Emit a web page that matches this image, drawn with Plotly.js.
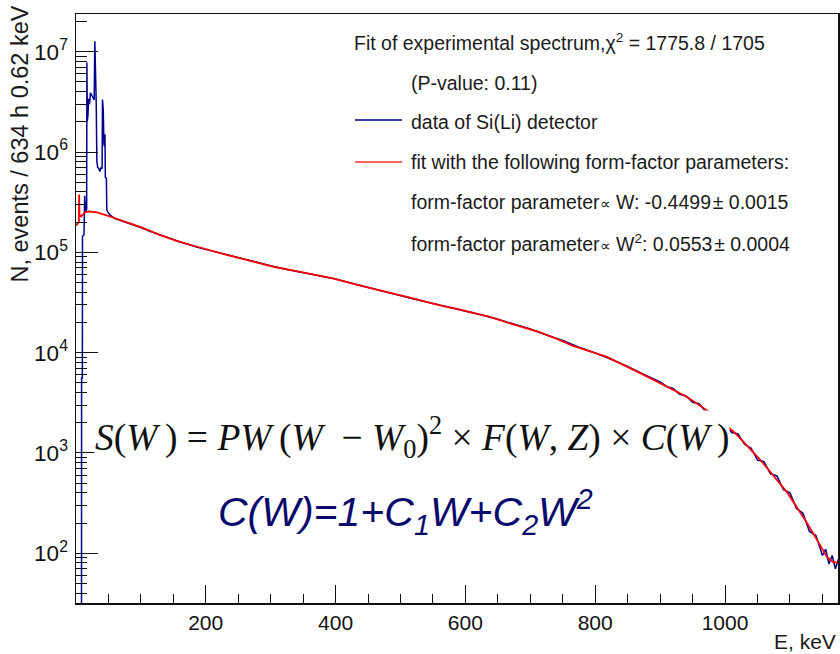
<!DOCTYPE html>
<html>
<head>
<meta charset="utf-8">
<script src="https://cdn.plot.ly/plotly-3.0.1.min.js"></script>
<style>html,body{margin:0;padding:0;background:#fff;}#chart{width:840px;height:654px;}</style>
</head>
<body>
<div id="chart"></div>
<script>
// ---- data ----
// fit curve (energy in keV, events per bin)
const fitE = [0.5, 3.5, 4.6, 5.0, 5.6, 8, 14, 20, 31, 51, 77, 103, 128, 154, 180, 205, 231, 257, 282, 308, 334, 359, 396, 432, 458, 484, 510, 535, 561, 587, 612, 638, 664, 689, 715, 741, 766, 792, 818, 874, 941, 982, 1015, 1054, 1096, 1126, 1157, 1166, 1176];
const fitN = [1.85e5, 2.0e5, 2.0e5, 3.76e5, 2.38e5, 2.27e5, 2.5e5, 2.56e5, 2.51e5, 2.29e5, 1.99e5, 1.75e5, 1.50e5, 1.31e5, 1.17e5, 1.05e5, 9.5e4, 8.6e4, 7.8e4, 7.1e4, 6.6e4, 6.1e4, 5.5e4, 4.76e4, 4.3e4, 3.94e4, 3.59e4, 3.24e4, 2.96e4, 2.73e4, 2.49e4, 2.27e4, 2.0e4, 1.8e4, 1.59e4, 1.37e4, 1.17e4, 1.03e4, 9.06e3, 6.04e3, 3.64e3, 2.41e3, 1.59e3, 857, 402, 202, 92, 82, 80];

// Si(Li) detector spectrum (energy in keV, events per bin)
const dataE = [8.6, 8.8, 10.0, 10.2, 12.5, 13.6, 14.8, 16.6, 17.0, 17.6, 18.6, 19.6, 21.0, 22.5, 24.0, 26.0, 28.2, 29.2, 30.3, 31.4, 32.3, 33.6, 35.2, 36.8, 38.6, 40.4, 41.0, 42.2, 43.2, 44.0, 44.8, 45.4, 47.0, 47.6, 50,
  53, 60, 70, 80, 90, 100, 112, 125, 137, 150, 162, 175, 187, 200, 225, 250, 275, 300, 325, 350, 375, 400, 425, 450, 475, 500, 525, 550, 575, 600, 625, 650, 675, 700, 725, 750, 775, 800, 825, 850, 875, 900,
  910, 920, 930, 940, 950, 960, 970, 980, 990, 1000, 1010, 1020, 1030, 1040, 1050, 1060, 1070, 1080, 1090, 1100, 1110, 1120, 1130, 1140, 1150, 1155, 1160, 1165, 1170, 1175];
const dataN = [1, 5600, 5600, 1.44e5, 1.5e5, 3.67e5, 2.5e5, 2.7e5, 7.8e6, 2.02e6, 2.3e6, 3.4e6, 3.0e6, 3.9e6, 3.7e6, 3.5e6, 3.3e6, 1.27e7, 6.4e6, 3.0e6, 8.1e5, 7.0e5, 6.9e5, 6.4e5, 7.0e5, 6.8e5, 3.33e6, 2.6e6, 1.2e6, 1.14e6, 1.5e6, 5.6e5, 5.5e5, 2.65e5, 2.48e5,
  2.35e5, 2.17e5, 2.07e5, 1.96e5, 1.86e5, 1.77e5, 1.64e5, 1.53e5, 1.42e5, 1.34e5, 1.26e5, 1.19e5, 1.12e5, 1.07e5, 9.7e4, 8.8e4, 8.0e4, 7.35e4, 6.75e4, 6.3e4, 5.85e4, 5.42e4, 4.92e4, 4.46e4, 4.08e4, 3.73e4, 3.36e4, 3.09e4, 2.84e4, 2.62e4, 2.37e4, 2.15e4, 1.91e4, 1.72e4, 1.50e4, 1.32e4, 1.13e4, 9.95e3, 8.55e3, 7.3e3, 6.05e3, 5.1e3,
  4.6e3, 4.4e3, 3.85e3, 3.7e3, 3.2e3, 3.1e3, 2.6e3, 2.55e3, 2.1e3, 2.0e3, 1.6e3, 1.55e3, 1.22e3, 1.12e3, 850, 820, 620, 590, 430, 400, 280, 250, 165, 150, 95, 110, 78, 95, 70, 88];

const xTickVals = [200, 400, 600, 800, 1000];
const xTickText = ['200', '400', '600', '800', '1000'];

const legendLines = [
  'Fit of experimental spectrum,χ<sup>2</sup> = 1775.8 / 1705',
  '(P-value: 0.11)',
  'data of Si(Li) detector',
  'fit with the following form-factor parameters:',
  'form-factor parameter<span style="font-size:15px">∝</span> W: -0.4499<span style="font-size:6px"> </span>± 0.0015',
  'form-factor parameter<span style="font-size:15px">∝</span> W<sup>2</sup>: 0.0553<span style="font-size:6px"> </span>± 0.0004'
];
const formula1 = '<i>S</i>(<i>W</i>\u2009) = <i>PW</i>\u2009(<i>W</i>  − <i>W</i><sub>0</sub>)<sup>2</sup> × <i>F</i>(<i>W</i>, <i>Z</i>) × <i>C</i>(<i>W</i>\u2009)';
const formula2 = '<i>C(W)=1+C<sub>1</sub>W+C<sub>2</sub>W<sup>2</sup></i>';

// ---- layout helpers (pixel -> paper) ----
const L = 76, R = 2, T = 14, B = 51, W = 840, H = 654;
const PW = W - L - R, PH = H - T - B;
const px = x => (x - L) / PW;
const py = y => (H - B - y) / PH;

const sans = 'Liberation Sans, Arial, Helvetica, sans-serif';
const serif = 'Liberation Serif, Times New Roman, serif';

const traces = [
  {x: dataE, y: dataN, type: 'scatter', mode: 'lines', line: {color: '#00008f', width: 1.5}, name: 'data of Si(Li) detector'},
  {x: fitE, y: fitN, type: 'scatter', mode: 'lines', line: {color: '#ff0000', width: 1.8}, name: 'fit'}
];

const annotations = [];
const legendY = [42, 83, 122, 162, 202, 243];
legendLines.forEach((t, i) => {
  annotations.push({xref: 'paper', yref: 'paper', x: px(i === 0 ? 352 : 409), y: py(legendY[i]),
    xanchor: 'left', yanchor: 'middle', showarrow: false, text: t,
    font: {family: sans, size: 19.5, color: '#1a1a1a'}});
});
annotations.push({xref: 'paper', yref: 'paper', x: px(19), y: py(4), xanchor: 'center', yanchor: 'top',
  textangle: -90, showarrow: false, text: 'N, events / 634 h 0.62 keV', font: {family: sans, size: 23.5, color: '#1a1a1a'}});
annotations.push({xref: 'paper', yref: 'paper', x: px(838), y: py(641), xanchor: 'right', yanchor: 'middle',
  showarrow: false, text: 'E, keV', font: {family: sans, size: 21, color: '#1a1a1a'}});
annotations.push({xref: 'paper', yref: 'paper', x: px(412), y: py(437), xanchor: 'center', yanchor: 'middle',
  showarrow: false, text: formula1, bgcolor: '#ffffff', borderpad: 0, font: {family: serif, size: 37.5, color: '#111111'}});
annotations.push({xref: 'paper', yref: 'paper', x: px(405), y: py(512), xanchor: 'center', yanchor: 'middle',
  showarrow: false, text: formula2, font: {family: sans, size: 41, color: '#0a0a6e'}});

const shapes = [
  {type: 'line', xref: 'paper', yref: 'paper', x0: px(355), x1: px(402), y0: py(120), y1: py(120), line: {color: '#00008f', width: 1.5}},
  {type: 'line', xref: 'paper', yref: 'paper', x0: px(355), x1: px(402), y0: py(162), y1: py(162), line: {color: '#ff3030', width: 1.5}}
];

const layout = {
  width: W, height: H,
  margin: {l: L, r: R, t: T, b: B, pad: 0},
  paper_bgcolor: '#ffffff', plot_bgcolor: '#ffffff',
  showlegend: false,
  xaxis: {
    range: [0.2, 1174], tickmode: 'array', tickvals: xTickVals, ticktext: xTickText,
    ticks: 'inside', ticklen: 18, tickwidth: 1, tickcolor: '#111',
    minor: {ticks: 'inside', ticklen: 9, tickwidth: 1, tickcolor: '#111', dtick: 50, tick0: 0, showgrid: false},
    showline: true, mirror: true, linecolor: '#111', linewidth: 1.5,
    showgrid: false, zeroline: false,
    tickfont: {family: sans, size: 21, color: '#111'}, ticklabelstandoff: 0
  },
  yaxis: {
    type: 'log', range: [1.504, 7.376], dtick: 1, exponentformat: 'power',
    ticks: 'inside', ticklen: 22, tickwidth: 1, tickcolor: '#111',
    minor: {ticks: 'inside', ticklen: 11, tickwidth: 1, tickcolor: '#111', dtick: 'D1', showgrid: false},
    showline: true, mirror: true, linecolor: '#111', linewidth: 1.5,
    showgrid: false, zeroline: false,
    tickfont: {family: sans, size: 18, color: '#111'}, ticklabelstandoff: 3
  },
  annotations: annotations,
  shapes: shapes
};

Plotly.newPlot('chart', traces, layout, {displayModeBar: false, staticPlot: true});
</script>
</body>
</html>
